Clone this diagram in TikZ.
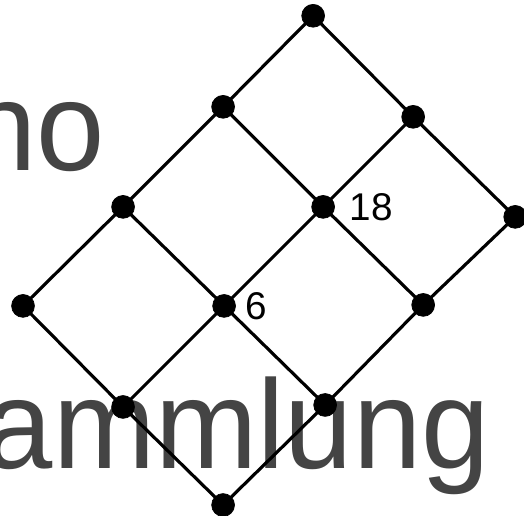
\documentclass[tikz,border=0pt]{standalone}
\usepackage{fontspec}
\setsansfont{Liberation Sans}
\newfontfamily\wmfont[FakeStretch=0.97]{Liberation Sans}
\usepackage{tikz}
\usetikzlibrary{calc}
\usepackage{tkz-euclide}
\definecolor{wmgray}{HTML}{444444}
\tikzset{bgtext/.style={text=wmgray, font=\wmfont\fontsize{72}{72}\selectfont, inner sep=0pt},
         numlbl/.style={font=\sffamily\fontsize{22}{22}\selectfont, inner sep=0pt, anchor=west}}

\begin{document}
\begin{tikzpicture}[scale=0.02]
                \useasboundingbox (0,0) rectangle (524,515);
                \node[bgtext, anchor=base east] (wmtop) at (105,344) {no};
                \node[bgtext, anchor=base east] (wmbot) at (490,47) {ammlung};
                \tkzDefPoints{223/10/O, 123/108/A, 23/209/B, 325/110/C, 423/210/D, 515/298/E}
                \tkzDefPoints{224/209/F, 123/308/G, 323/308/H, 223/408/I, 413/398/J, 313/499/K}
                \tkzDrawSegments[black, line width=1.8pt](O,A A,B C,F F,G D,H H,I E,J J,K)
                \tkzDrawSegments[black, line width=1.8pt](O,C C,D D,E A,F F,H H,J B,G G,I I,K)
                \tkzDrawPoints[fill=black, size=13](O,A,B,C,D,E,F,G,H,I,J,K)
                \tkzLabelPoint[numlbl, xshift=12pt](F){6}
                \tkzLabelPoint[numlbl, xshift=15pt](H){18}
            \end{tikzpicture}
\end{document}
